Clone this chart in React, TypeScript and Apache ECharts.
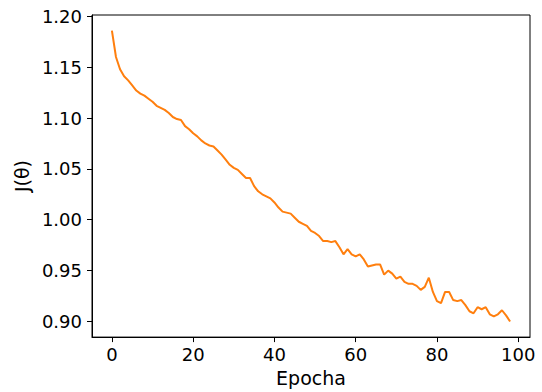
import React, { useEffect, useRef } from "react";
import * as echarts from "echarts";

const epochs: number[] = Array.from({ length: 99 }, (_, i) => i);
const costValues: number[] = [
  1.186, 1.16, 1.148, 1.141, 1.137, 1.132, 1.127, 1.124, 1.122, 1.119,
  1.116, 1.112, 1.11, 1.108, 1.105, 1.101, 1.099, 1.098, 1.092, 1.089,
  1.085, 1.082, 1.078, 1.075, 1.073, 1.072, 1.068, 1.064, 1.059, 1.054,
  1.051, 1.049, 1.045, 1.041, 1.041, 1.033, 1.028, 1.025, 1.023, 1.021,
  1.017, 1.012, 1.008, 1.007, 1.006, 1.002, 0.998, 0.996, 0.994, 0.989,
  0.987, 0.984, 0.979, 0.979, 0.978, 0.979, 0.973, 0.966, 0.971, 0.966,
  0.964, 0.966, 0.961, 0.954, 0.955, 0.956, 0.956, 0.946, 0.95, 0.947,
  0.942, 0.944, 0.939, 0.937, 0.937, 0.935, 0.931, 0.934, 0.943, 0.929,
  0.92, 0.918, 0.929, 0.929, 0.921, 0.92, 0.921, 0.916, 0.91, 0.908,
  0.914, 0.912, 0.914, 0.907, 0.905, 0.907, 0.911, 0.906, 0.9,
];
const xTicks: number[] = [0, 20, 40, 60, 80, 100];
const yTicks: number[] = [0.9, 0.95, 1.0, 1.05, 1.1, 1.15, 1.2];
const xLabel = "Epocha";
const yLabel = "J(θ)";

export default function App() {
  const ref = useRef<HTMLDivElement>(null);
  useEffect(() => {
    if (!ref.current) return;
    const chart = echarts.init(ref.current, undefined, { renderer: "svg" });
    const font = "DejaVu Sans";
    const axisCommon = {
      type: "value" as const,
      splitLine: { show: false },
      axisLine: { show: true, onZero: false, lineStyle: { color: "#000", width: 1 } },
      axisTick: { show: true, length: 5, lineStyle: { color: "#000", width: 1 } },
      nameTextStyle: { fontFamily: font, fontSize: 19, color: "#000" },
    };
    chart.setOption({
      animation: false,
      backgroundColor: "#fff",
      grid: {
        left: 92,
        right: 12,
        top: 15,
        bottom: 54,
        show: true,
        borderColor: "#000",
        borderWidth: 1,
        backgroundColor: "transparent",
      },
      xAxis: {
        ...axisCommon,
        min: -4.9,
        max: 102.9,
        name: xLabel,
        nameLocation: "middle",
        nameGap: 29,
        axisTick: { ...axisCommon.axisTick, customValues: xTicks },
        axisLabel: {
          customValues: xTicks,
          margin: 8,
          fontFamily: font,
          fontSize: 18,
          color: "#000",
        },
      },
      yAxis: {
        ...axisCommon,
        min: 0.8846,
        max: 1.2013,
        name: yLabel,
        nameLocation: "middle",
        nameRotate: 90,
        nameGap: 57,
        axisTick: { ...axisCommon.axisTick, customValues: yTicks },
        axisLabel: {
          customValues: yTicks,
          margin: 10,
          fontFamily: font,
          fontSize: 18,
          color: "#000",
          formatter: (v: number) => v.toFixed(2),
        },
      },
      series: [
        {
          type: "line",
          data: epochs.map((e, i) => [e, costValues[i]]),
          showSymbol: false,
          lineStyle: { color: "#ff7f0e", width: 2 },
          itemStyle: { color: "#ff7f0e" },
        },
      ],
    });
    return () => chart.dispose();
  }, []);
  return (
    <div
      ref={ref}
      style={{ position: "absolute", left: 0, top: 0, width: 542, height: 392 }}
    />
  );
}
